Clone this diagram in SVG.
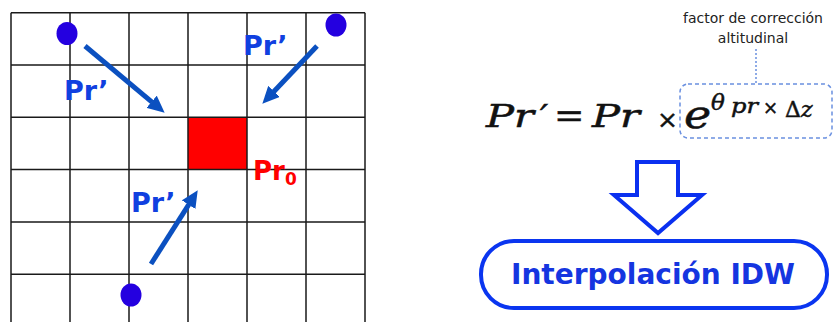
<svg xmlns="http://www.w3.org/2000/svg" width="836" height="322" viewBox="0 0 836 322">
<style>
.grid{stroke:#1a1a1a;stroke-width:1.5;fill:none}
.dot{fill:#2400e0}
.arr{stroke:#0b50c0;stroke-width:5;fill:none}
.lbl{font-family:"DejaVu Sans",sans-serif;font-weight:bold;font-size:27px;fill:#1040e0}
.red{font-family:"DejaVu Sans",sans-serif;font-weight:bold;fill:#ff0000}
.math{font-family:"DejaVu Serif",serif;fill:#111;stroke:#111;stroke-width:0.5}
.it{font-style:italic}
.note{font-family:"DejaVu Sans",sans-serif;font-size:14px;fill:#222;text-anchor:middle}
</style>
<defs>
<marker id="ah" viewBox="0 0 17 16" refX="0.5" refY="8" markerWidth="17" markerHeight="16" markerUnits="userSpaceOnUse" orient="auto">
<path d="M0,0 L17,8 L0,16 z" fill="#0b50c0"/>
</marker>
</defs>
<rect width="836" height="322" fill="#fff"/>
<g id="grid">
<rect x="188" y="117" width="59" height="52.3" fill="#ff0000"/>
<path class="grid" d="M11,12.7V322M70,12.7V322M129,12.7V322M188,12.7V322M247,12.7V322M306,12.7V322M365,12.7V322M11,12.7H365M11,65H365M11,117.3H365M11,169.6H365M11,221.9H365M11,274.2H365"/>
</g>
<g id="p1"><ellipse class="dot" cx="67" cy="33.5" rx="10.5" ry="11.5"/></g>
<g id="p2"><ellipse class="dot" cx="336" cy="25" rx="10.5" ry="11.5"/></g>
<g id="p3"><ellipse class="dot" cx="131" cy="295" rx="10.5" ry="11.5"/></g>
<g id="connectors">
<line class="arr" x1="85" y1="46" x2="152" y2="102.1" marker-end="url(#ah)"/>
<line class="arr" x1="317" y1="46" x2="273.7" y2="91.7" marker-end="url(#ah)"/>
<line class="arr" x1="151" y1="264" x2="188.9" y2="204.3" marker-end="url(#ah)"/>
</g>
<g id="labels">
<text class="lbl" x="64" y="100">Pr’</text>
<text class="lbl" x="243" y="55">Pr’</text>
<text class="lbl" x="131" y="212">Pr’</text>
<text class="red" x="253" y="180" font-size="26">Pr</text>
<text class="red" x="285" y="185" font-size="17">0</text>
</g>
<g id="formula">
<text class="math it" transform="translate(486,127) scale(1.3,1)" font-size="32">P</text>
<text class="math it" transform="translate(514,127) scale(1.3,1)" font-size="32">r</text>
<text class="math it" transform="translate(540,127) scale(1.1,1)" font-size="32">′</text>
<text class="math" transform="translate(554,127) scale(1.1,1)" font-size="33">=</text>
<text class="math it" transform="translate(592,127) scale(1.3,1)" font-size="32">P</text>
<text class="math it" transform="translate(620,127) scale(1.3,1)" font-size="32">r</text>
<text class="math" transform="translate(657,128)" font-size="25">×</text>
<text class="math it" transform="translate(684,128) scale(1.15,1)" font-size="40">e</text>
<text class="math it" transform="translate(711,110)" font-size="23">θ</text>
<text class="math it" transform="translate(731,113) scale(1.15,1)" font-size="21">pr</text>
<text class="math" transform="translate(763,114)" font-size="18">×</text>
<text class="math" transform="translate(785,117)" font-size="22">Δ<tspan class="it">z</tspan></text>
</g>
<g id="note">
<rect x="680" y="84" width="152" height="54" rx="8" fill="none" stroke="#6a90e0" stroke-width="1.5" stroke-dasharray="4,3"/>
<line x1="756" y1="49" x2="756" y2="84" stroke="#6a90e0" stroke-width="1.5" stroke-dasharray="2,2"/>
<text class="note" x="753" y="23">factor de corrección</text>
<text class="note" x="753" y="43">altitudinal</text>
</g>
<g id="bigarrow">
<polygon points="637,162 678,162 678,195 702,195 658,233 614,195 637,195" fill="#fff" stroke="#0a30f0" stroke-width="4"/>
</g>
<g id="idw">
<rect x="481" y="241" width="346" height="67" rx="33" fill="#fff" stroke="#0a35f0" stroke-width="4"/>
<text x="653" y="284" font-family="DejaVu Sans, sans-serif" font-weight="bold" font-size="28" fill="#1535e0" text-anchor="middle">Interpolación IDW</text>
</g>
</svg>
